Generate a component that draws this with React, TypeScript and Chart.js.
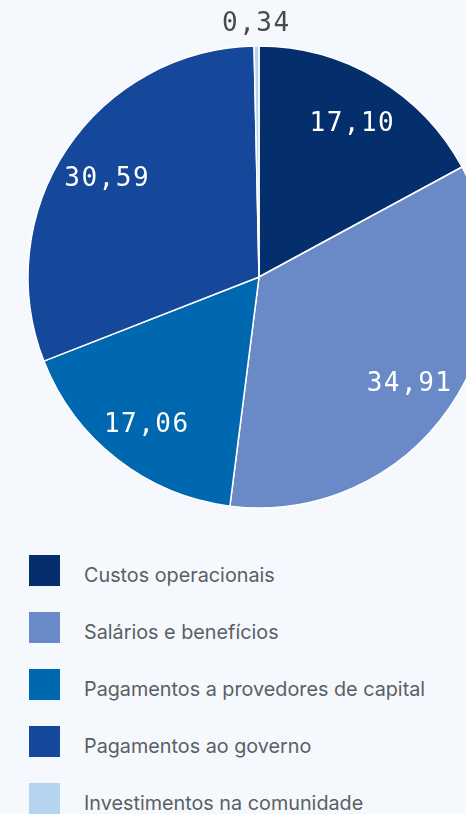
import React, { useEffect, useRef } from "react";
import { Chart, registerables } from "chart.js";

Chart.register(...registerables);

const labels = [
  "Custos operacionais",
  "Salários e benefícios",
  "Pagamentos a provedores de capital",
  "Pagamentos ao governo",
  "Investimentos na comunidade",
];
const values = [17.1, 34.91, 17.06, 30.59, 0.34];
const valueLabels = ["17,10", "34,91", "17,06", "30,59", "0,34"];
const colors = ["#052f6c", "#6a8ac7", "#0067b1", "#15479b", "#b5d4ef"];

const BG = "#f5f8fc";

const labelPlugin = {
  id: "sliceLabels",
  afterDatasetsDraw(chart: any) {
    const ctx = chart.ctx;
    const meta = chart.getDatasetMeta(0);
    ctx.save();
    ctx.font = "26px 'DejaVu Sans Mono', monospace";
    try {
      (ctx as any).letterSpacing = "1.5px";
    } catch (e) {}
    ctx.textAlign = "center";
    ctx.textBaseline = "middle";
    meta.data.forEach((arc: any, i: number) => {
      const p = arc.getProps(["x", "y", "startAngle", "endAngle", "outerRadius"], true);
      const mid = (p.startAngle + p.endAngle) / 2;
      const small = values[i] < 2;
      const d = small ? p.outerRadius + 22 : p.outerRadius * 0.79;
      ctx.fillStyle = small ? "#4a4a4a" : "#ffffff";
      ctx.fillText(valueLabels[i], p.x + Math.cos(mid) * d, p.y + Math.sin(mid) * d + (small ? 0 : 4));
    });
    ctx.restore();
  },
};

export default function App() {
  const ref = useRef<HTMLCanvasElement | null>(null);
  useEffect(() => {
    document.body.style.margin = "0";
    document.body.style.background = BG;
    const chart = new Chart(ref.current!, {
      type: "pie",
      data: {
        labels,
        datasets: [
          {
            data: values,
            backgroundColor: colors,
            borderColor: "#ffffff",
            borderWidth: 1.5,
          },
        ],
      },
      options: {
        animation: false,
        responsive: false,
        devicePixelRatio: 1,
        radius: 231,
        layout: { padding: 0 },
        plugins: {
          legend: { display: false },
          tooltip: { enabled: false },
        },
      } as any,
      plugins: [labelPlugin],
    });
    return () => chart.destroy();
  }, []);

  return (
    <div
      style={{
        position: "relative",
        width: 466,
        height: 814,
        overflow: "hidden",
        background: BG,
      }}
    >
      <canvas
        ref={ref}
        width={518}
        height={554}
        style={{ position: "absolute", left: 0, top: 0, width: 518, height: 554 }}
      />
      <div style={{ position: "absolute", left: 29, top: 555 }}>
        {labels.map((l, i) => (
          <div
            key={l}
            style={{
              display: "flex",
              alignItems: "center",
              height: 31,
              marginBottom: 26,
            }}
          >
            <div style={{ width: 31, height: 31, background: colors[i], flex: "none" }} />
            <span
              style={{
                marginLeft: 24,
                fontFamily: "Inter, 'Noto Sans', sans-serif",
                fontSize: 19.8,
                color: "#5a5f65",
                position: "relative",
                top: 4,
                whiteSpace: "nowrap",
              }}
            >
              {l}
            </span>
          </div>
        ))}
      </div>
    </div>
  );
}
